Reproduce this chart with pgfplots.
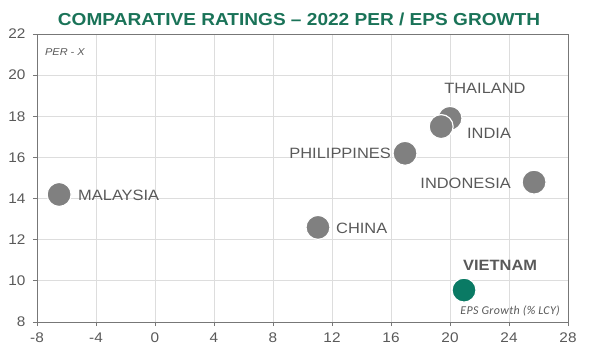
\documentclass[border=0pt]{standalone}
\usepackage{pgfplots}
\pgfplotsset{compat=1.18}
\usepackage{fontspec}
\setmainfont{Liberation Sans}[FakeStretch=1.1]
\newfontfamily\calfont{Carlito}[LetterSpace=3]
\definecolor{txtgray}{HTML}{595959}
\definecolor{dotgray}{HTML}{808080}
\definecolor{vngreen}{HTML}{0A7A64}
\definecolor{ttlgreen}{HTML}{1A7358}
\definecolor{gridgray}{HTML}{DDDDDD}
\definecolor{axgray}{HTML}{777777}
\begin{document}
\begin{tikzpicture}
\begin{axis}[
  at={(0,0)}, anchor=south west,
  scale only axis,
  width=531bp, height=288bp,
  xmin=-8, xmax=28, ymin=8, ymax=22,
  xtick={-8,-4,0,4,8,12,16,20,24,28},
  ytick={8,10,12,14,16,18,20,22},
  grid=major,
  major grid style={gridgray, line width=0.8pt},
  axis line style={axgray, line width=1pt},
  tick style={axgray, line width=0.8pt},
  tick align=outside,
  major tick length=4bp,
  xtick pos=bottom, ytick pos=left,
  ticklabel style={font=\fontsize{14}{15}\selectfont, text=txtgray},
  xticklabel style={yshift=-3bp},
  yticklabel style={xshift=-4bp},
  /pgf/number format/assume math mode=true,
  clip=false,
]
\addplot[only marks, mark=*, mark size=12bp, mark options={fill=dotgray, draw=white, line width=1.2pt}]
  coordinates {(-6.5,14.2) (11.05,12.6) (16.95,16.2) (20.0,17.9) (19.4,17.5) (25.7,14.8)};
\addplot[only marks, mark=*, mark size=12bp, mark options={fill=vngreen, draw=white, line width=1.2pt}]
  coordinates {(20.95,9.55)};
\begin{scope}[every node/.style={font=\fontsize{15}{16}\selectfont, text=txtgray, inner sep=0pt}]
\node[anchor=west] at (axis cs:-5.22,14.17) {MALAYSIA};
\node[anchor=west] at (axis cs:12.27,12.57) {CHINA};
\node[anchor=east] at (axis cs:16.0,16.21) {PHILIPPINES};
\node[anchor=west] at (axis cs:19.6,19.37) {THAILAND};
\node[anchor=west] at (axis cs:21.15,17.19) {INDIA};
\node[anchor=east] at (axis cs:24.14,14.76) {INDONESIA};
\node[anchor=west, font=\fontsize{15}{16}\selectfont\bfseries] at (axis cs:20.88,10.77) {VIETNAM};
\end{scope}
\node[anchor=west, inner sep=0pt, text=txtgray, font=\fontsize{10}{11}\selectfont\itshape] at (axis cs:-7.46,21.12) {PER - X};
\node[anchor=east, inner sep=0pt, text=txtgray, font=\calfont\fontsize{12}{13}\selectfont\itshape] at (axis cs:27.46,8.53) {EPS Growth (\% LCY)};
\end{axis}
\node[anchor=center, inner sep=0pt, text=ttlgreen, font=\fontsize{17.4}{18}\selectfont\bfseries] at (262bp,303bp) {COMPARATIVE RATINGS – 2022 PER / EPS GROWTH};
\pgfresetboundingbox
\path (-37bp,-37bp) rectangle (559bp,322bp);
\end{tikzpicture}
\end{document}
